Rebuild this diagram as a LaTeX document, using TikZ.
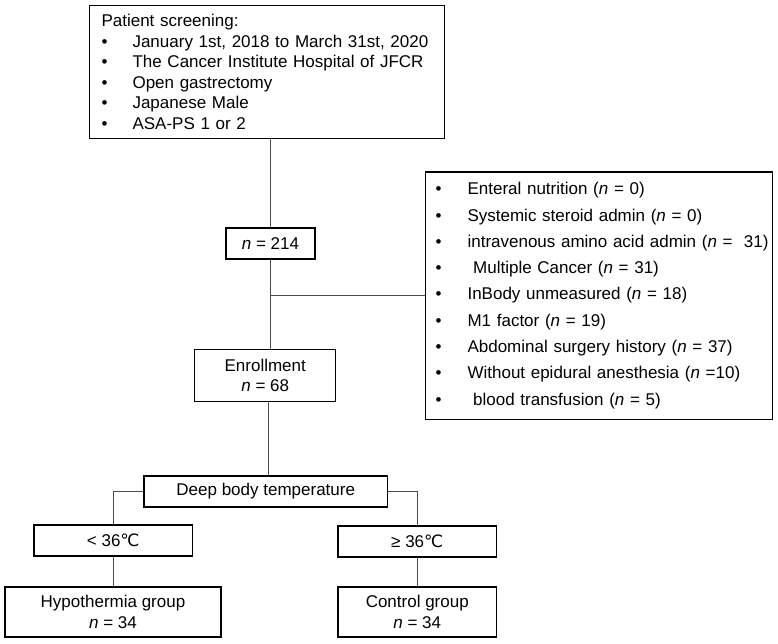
\documentclass[tikz,border=0pt]{standalone}
\usepackage{fontspec}
\setmainfont{Liberation Sans}
\newfontfamily\degfont{DejaVu Sans}
\usetikzlibrary{positioning}
\newcommand{\itm}[2][0pt]{\hspace*{#1}\makebox[#2][l]{\textbullet}}
\newcommand{\degc}{{\degfont ℃}}
\tikzset{box/.style={draw, line width=1.1pt, inner sep=0pt, align=center,
    font=\fontsize{17}{20.5}\selectfont},
  link/.style={draw=black!70, line width=0.8pt}}

\begin{document}
\begin{tikzpicture}[x=1pt,y=-1pt]
\useasboundingbox (0,0) rectangle (778,644);
% screening and exclusion
\node[box, anchor=north west, minimum width=355pt, minimum height=133pt,
  text width=331pt, align=left] (screen) at (89,5) {Patient screening:\\
\itm{31pt}January 1st, 2018 to March 31st, 2020\\
\itm{31pt}The Cancer Institute Hospital of JFCR\\
\itm{31pt}Open gastrectomy\\
\itm{31pt}Japanese Male\\
\itm{31pt}ASA-PS 1 or 2};
\node[box, minimum width=89pt, minimum height=31pt] (n214) at (270.5,243.5) {\textit{n} = 214};
\node[box, anchor=north west, minimum width=347pt, minimum height=247pt,
  text width=331pt, align=left, font=\fontsize{17}{26.3}\selectfont] (excl) at (425,171.5) {%
\itm[2pt]{32pt}Enteral nutrition (\textit{n} = 0)\\
\itm[2pt]{32pt}Systemic steroid admin (\textit{n} = 0)\\
\itm[2pt]{32pt}\mbox{intravenous amino acid admin (\textit{n} = \ 31)}\\
\itm[2pt]{32pt}\ Multiple Cancer (\textit{n} = 31)\\
\itm[2pt]{32pt}InBody unmeasured (\textit{n} = 18)\\
\itm[2pt]{32pt}M1 factor (\textit{n} = 19)\\
\itm[2pt]{32pt}Abdominal surgery history (\textit{n} = 37)\\
\itm[2pt]{32pt}Without epidural anesthesia (\textit{n} =10)\\
\itm[2pt]{32pt}\ blood transfusion (\textit{n} = 5)};
\node[box, minimum width=141pt, minimum height=52pt] (enroll) at (265.25,375.5) {Enrollment\\\textit{n} = 68};
% temperature groups
\node[box, minimum width=243.5pt, minimum height=31pt] (deep) at (265.75,491.5) {Deep body temperature};
\node[box, minimum width=158.5pt, minimum height=31pt] (cold) at (113.25,540.5) {< 36\degc};
\node[box, minimum width=158.5pt, minimum height=31pt] (warm) at (417.25,541.5) {≥ 36\degc};
\node[box, minimum width=216pt, minimum height=50pt] (hypo) at (113,612) {Hypothermia group\\\textit{n} = 34};
\node[box, minimum width=158.5pt, minimum height=50pt] (ctrl) at (417.25,612) {Control group\\\textit{n} = 34};

\coordinate (split) at (n214.south |- excl.west);
\draw[link] (screen.south -| n214) -- (n214.north);
\draw[link] (n214.south) -- (n214.south |- enroll.north);
\draw[link] (split) -- (excl.west);
\draw[link] ([xshift=3pt]enroll.south) -- ([xshift=3pt]enroll.south |- deep.north);
\draw[link] (deep.west) -| (cold.north);
\draw[link] (deep.east) -| (warm.north);
\draw[link] (cold.south) -- (cold.south |- hypo.north);
\draw[link] (warm.south) -- (ctrl.north);
\end{tikzpicture}
\end{document}
